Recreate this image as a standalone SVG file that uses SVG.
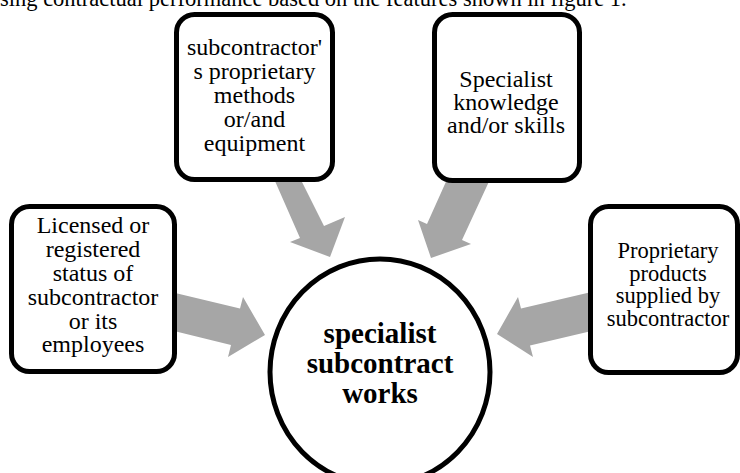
<svg xmlns="http://www.w3.org/2000/svg" width="740" height="473" viewBox="0 0 740 473">
<style>
.box{fill:#fff;stroke:#000;stroke-width:5}
.arr{fill:#a6a6a6;stroke:none}
.t{font-family:"Liberation Serif","Times New Roman",serif;font-size:24px;fill:#000;text-anchor:middle}
.c{font-family:"Liberation Serif","Times New Roman",serif;font-size:29px;font-weight:bold;fill:#000;text-anchor:middle}
.top{font-family:"Liberation Serif","Times New Roman",serif;font-size:22.5px;fill:#000}
</style>
<rect width="740" height="473" fill="#fff"/>
<text class="top" x="0" y="6">sing contractual performance based on the features shown in figure 1.</text>
<g id="connectors">
<polygon class="arr" points="271,172 300,238 290,242 330,257 345,217 324,226 294,166"/>
<polygon class="arr" points="449,175 427,224 418,220 431,258 471,244 462,240 492,175"/>
<polygon class="arr" points="170,291.7 240,308.6 243,297 265,335 228,357 231,345 170,330"/>
<polygon class="arr" points="600,290 521,308.6 518,297 497,334 533,357 530,345.4 600,329"/>
</g>
<g id="node-methods">
<rect class="box" x="176.5" y="14.5" width="156" height="165" rx="18"/>
<text class="t"><tspan x="254.5" y="55">subcontractor'</tspan><tspan x="254.5" y="79">s proprietary</tspan><tspan x="254.5" y="103">methods</tspan><tspan x="254.5" y="127">or/and</tspan><tspan x="254.5" y="151">equipment</tspan></text>
</g>
<g id="node-knowledge">
<rect class="box" x="434.5" y="14.5" width="145" height="166" rx="18"/>
<text class="t"><tspan x="506" y="87">Specialist</tspan><tspan x="506" y="110">knowledge</tspan><tspan x="506" y="133">and/or skills</tspan></text>
</g>
<g id="node-licensed">
<rect class="box" x="11.5" y="206.5" width="163" height="165" rx="18"/>
<text class="t"><tspan x="93" y="233">Licensed or</tspan><tspan x="93" y="257">registered</tspan><tspan x="93" y="281">status of</tspan><tspan x="93" y="305">subcontractor</tspan><tspan x="93" y="328.5">or its</tspan><tspan x="93" y="352">employees</tspan></text>
</g>
<g id="node-products">
<rect class="box" x="590.5" y="206.5" width="147" height="166" rx="18"/>
<text class="t" style="font-size:22.5px"><tspan x="668" y="258">Proprietary</tspan><tspan x="668" y="280.5">products</tspan><tspan x="668" y="303">supplied by</tspan><tspan x="668" y="325.5">subcontractor</tspan></text>
</g>
<g id="node-center">
<ellipse cx="380" cy="372" rx="110" ry="113" fill="#fff" stroke="#000" stroke-width="5"/>
<text class="c"><tspan x="380" y="343">specialist</tspan><tspan x="380" y="373">subcontract</tspan><tspan x="380" y="403">works</tspan></text>
</g>
</svg>
